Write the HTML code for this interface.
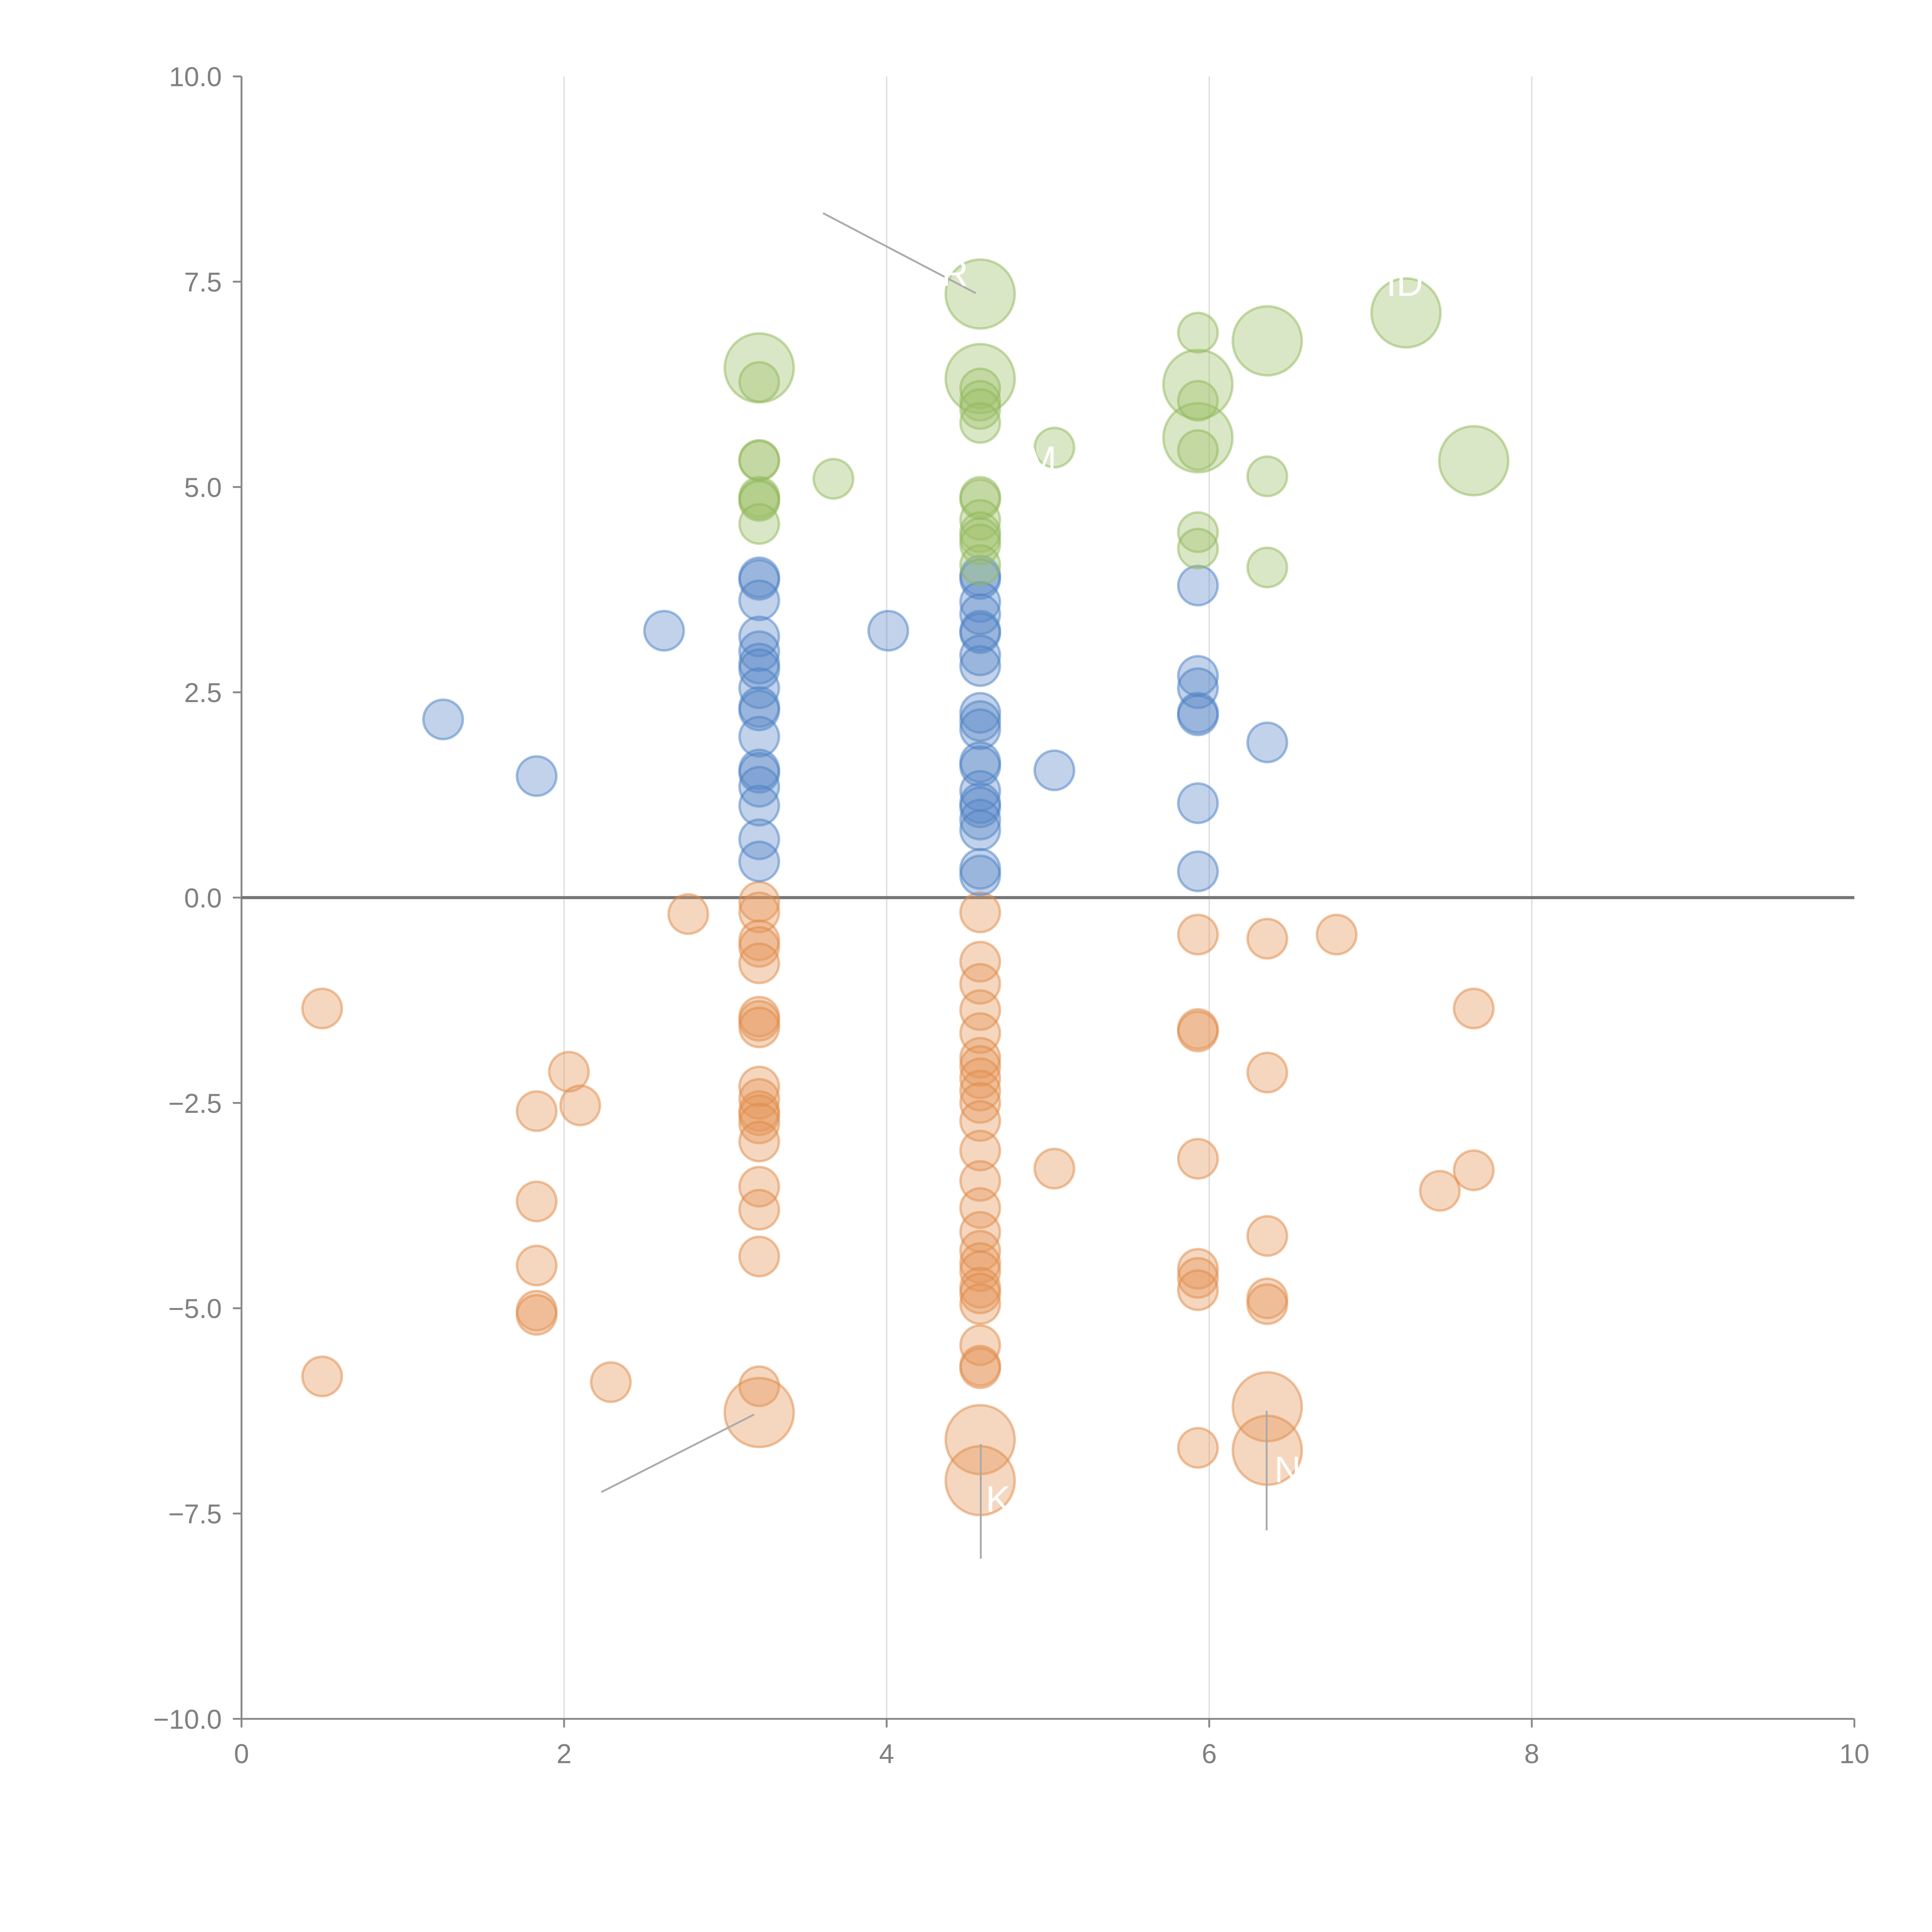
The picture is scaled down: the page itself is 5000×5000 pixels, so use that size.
<!DOCTYPE html>
<html><head><meta charset="utf-8"><style>
html,body{margin:0;padding:0;background:#fff;}
svg{display:block;font-family:"Liberation Sans",Arial,sans-serif;}
</style></head><body>
<svg id="chart" width="5000" height="5000" viewBox="0 0 1568 1568" xmlns="http://www.w3.org/2000/svg">
<g id="grid"></g>
<g id="axes"></g>
<g id="marks"></g>
<g id="annot"></g>
</svg>
<script>
const xTicks=[0,2,4,6,8,10];
const yTicks=[-10,-7.5,-5,-2.5,0,2.5,5,7.5,10];
const yTickLabels=["\u221210.0","\u22127.5","\u22125.0","\u22122.5","0.0","2.5","5.0","7.5","10.0"];
const blueX=[1.25,1.83,2.62,4.01,5.04,6.36,3.21,3.21,3.21,3.21,3.21,3.21,3.21,3.21,3.21,3.21,3.21,3.21,3.21,3.21,3.21,3.21,3.21,4.58,4.58,4.58,4.58,4.58,4.58,4.58,4.58,4.58,4.58,4.58,4.58,4.58,4.58,4.58,4.58,4.58,4.58,4.58,4.58,5.93,5.93,5.93,5.93,5.93,5.93,5.93];
const blueY=[2.17,1.48,3.25,3.25,1.55,1.89,3.9,3.87,3.62,3.18,3.0,2.85,2.78,2.55,2.32,2.28,1.96,1.56,1.52,1.35,1.12,0.71,0.44,3.92,3.88,3.6,3.45,3.25,3.22,2.95,2.82,2.25,2.15,2.05,1.65,1.6,1.3,1.15,1.1,0.95,0.82,0.35,0.27,3.8,2.7,2.55,2.25,2.22,1.15,0.32];
const greenX=[3.21,3.21,3.21,3.21,3.21,3.21,3.21,3.21,3.67,4.58,4.58,4.58,4.58,4.58,4.58,4.58,4.58,4.58,4.58,4.58,4.58,4.58,5.04,5.93,5.93,5.93,5.93,5.93,5.93,5.93,6.36,6.36,6.36,7.22,7.64];
const greenY=[6.45,6.28,5.33,5.32,4.88,4.85,4.83,4.55,5.1,7.35,6.32,6.2,6.05,5.95,5.78,4.88,4.85,4.6,4.45,4.38,4.3,4.05,5.48,6.25,5.6,6.88,6.05,5.45,4.45,4.25,6.78,5.13,4.02,7.12,5.32];
const greenS=[2,1,1,1,1,1,1,1,1,2,2,1,1,1,1,1,1,1,1,1,1,1,1,2,2,1,1,1,1,1,2,1,1,2,2];
const orangeX=[0.5,0.5,1.83,1.83,1.83,1.83,1.83,2.03,2.1,2.29,2.77,
3.21,3.21,3.21,3.21,3.21,3.21,3.21,3.21,3.21,3.21,3.21,3.21,3.21,3.21,3.21,3.21,3.21,3.21,3.21,
4.58,4.58,4.58,4.58,4.58,4.58,4.58,4.58,4.58,4.58,4.58,4.58,4.58,4.58,4.58,4.58,4.58,4.58,4.58,4.58,4.58,4.58,4.58,4.58,4.58,4.58,
5.04,5.93,5.93,5.93,5.93,5.93,5.93,5.93,5.93,6.36,6.36,6.36,6.36,6.36,6.36,6.36,6.79,7.43,7.64,7.64];
const orangeY=[-1.35,-5.83,-2.6,-3.7,-4.48,-5.03,-5.08,-2.12,-2.53,-5.9,-0.2,
-0.05,-0.18,-0.52,-0.6,-0.8,-1.45,-1.5,-1.58,-2.3,-2.45,-2.6,-2.65,-2.75,-2.97,-3.52,-3.8,-4.37,-5.95,-6.27,
-0.18,-0.78,-1.05,-1.37,-1.65,-1.95,-2.05,-2.2,-2.35,-2.5,-2.72,-3.08,-3.45,-3.78,-4.07,-4.3,-4.45,-4.55,-4.75,-4.82,-4.95,-5.45,-5.7,-5.73,-6.6,-7.1,
-3.3,-0.45,-1.6,-1.63,-3.18,-4.52,-4.63,-4.78,-6.7,-0.5,-2.13,-4.12,-4.88,-4.95,-6.2,-6.73,-0.45,-3.57,-1.35,-3.32];
const orangeS=[1,1,1,1,1,1,1,1,1,1,1, 1,1,1,1,1,1,1,1,1,1,1,1,1,1,1,1,1,1,2, 1,1,1,1,1,1,1,1,1,1,1,1,1,1,1,1,1,1,1,1,1,1,1,1,2,2, 1,1,1,1,1,1,1,1,1,1,1,1,1,1,2,2,1,1,1,1];

const NS="http://www.w3.org/2000/svg";
const X0=196,X1=1505,Y0=1395,Y1=62;
function sx(v){return X0+(v-0)/(10-0)*(X1-X0);}
function sy(v){return Y0-(v+10)/20*(Y0-Y1);}
function mk(tag,attrs,parent){const e=document.createElementNS(NS,tag);for(const k in attrs)e.setAttribute(k,attrs[k]);parent.appendChild(e);return e;}
const grid=document.getElementById('grid'),axes=document.getElementById('axes'),marks=document.getElementById('marks'),annot=document.getElementById('annot');
xTicks.forEach(t=>{
  if(t>0&&t<10){const g=mk('line',{x1:sx(t),x2:sx(t),y1:Y1,y2:Y0,stroke:'#dcdcdc','stroke-width':1},grid);
  
  }
  const tk=mk('line',{x1:sx(t),x2:sx(t),y1:Y0,y2:Y0+7,stroke:'#888','stroke-width':1.5},axes);
  
  
  const tx=mk('text',{x:sx(t),y:Y0+36,'text-anchor':'middle','font-size':22,fill:'#808080'},axes);
  tx.textContent=String(t);
  
  
});
yTicks.forEach((t,i)=>{
  const tk=mk('line',{x1:X0-7,x2:X0,y1:sy(t),y2:sy(t),stroke:'#888','stroke-width':1.5},axes);
  
  
  const tx=mk('text',{x:X0-16,y:sy(t)+8,'text-anchor':'end','font-size':22,fill:'#808080'},axes);
  tx.textContent=yTickLabels[i];
  
  
});
const ya=mk('line',{x1:X0,x2:X0,y1:Y1,y2:Y0,stroke:'#888','stroke-width':1.5},axes);


const xa=mk('line',{x1:X0,x2:X1,y1:Y0,y2:Y0,stroke:'#888','stroke-width':1.5},axes);


function series(xs,ys,ss,fill,stroke,name){
  xs.forEach((x,i)=>{
    const r=(ss&&ss[i]===2)?28:16;
    const c=mk('circle',{cx:sx(x),cy:sy(ys[i]),r:r,fill:fill,'fill-opacity':0.38,stroke:stroke,'stroke-opacity':0.5,'stroke-width':2},marks);
    
    
  });
}
series(orangeX,orangeY,orangeS,'#e6955a','#e08a45','orange-bubble');
series(blueX,blueY,null,'#5b8ac9','#4a7fc4','blue-bubble');
series(greenX,greenY,greenS,'#9dc16a','#8fb85a','green-bubble');
const zl=mk('line',{x1:X0,x2:X1,y1:sy(0),y2:sy(0),stroke:'#777','stroke-width':2.5},axes);


[[668,173,792,238],[488,1211,612,1148],[796,1172,796,1265],[1028,1145,1028,1242]].forEach(l=>{
  const e=mk('line',{x1:l[0],y1:l[1],x2:l[2],y2:l[3],stroke:'#aaa','stroke-width':1.5},annot);
  
  
});
[[775,232,'R'],[1140,240,'ID'],[845,383,'M'],[810,1227,'K'],[1045,1203,'N']].forEach(l=>{
  const t=mk('text',{x:l[0],y:l[1],'text-anchor':'middle','font-size':30,fill:'#fff'},annot);
  t.textContent=l[2];
  
  
});
</script>
</body></html>
